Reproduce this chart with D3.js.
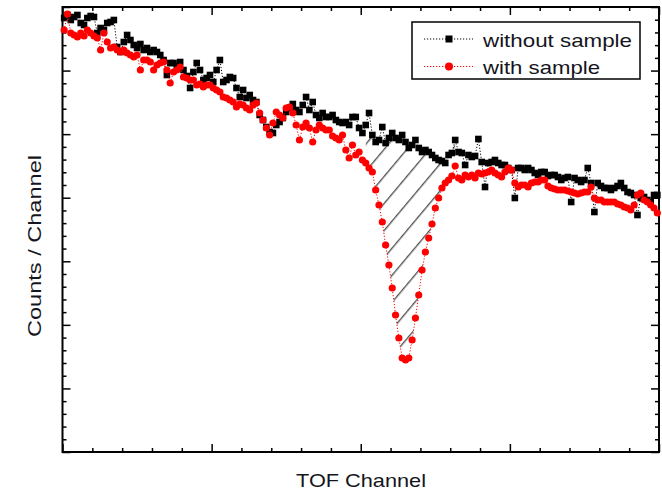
<!DOCTYPE html>
<html>
<head>
<meta charset="utf-8">
<script src="https://cdn.jsdelivr.net/npm/d3@7"></script>
<style>
  body { margin: 0; background: #fff; }
  svg text { font-family: "Liberation Sans", Arial, sans-serif; fill: #151520; }
</style>
</head>
<body>
<script>
// TOF channel index (no tick labels on the original, so arbitrary units)
const channels = d3.range(180).map(i => i + 0.5);

// counts per channel
const withoutSample = [
  434, 437, 432, 435, 437, 429, 427, 434, 436, 435, 419, 424, 422, 429, 430, 432, 405, 400, 410, 417,
  412, 407, 404, 408, 402, 404, 400, 402, 400, 397, 392, 377, 389, 389, 386, 390, 382, 376, 364, 380,
  389, 382, 372, 374, 377, 370, 382, 392, 370, 372, 375, 374, 364, 355, 362, 354, 357, 352, 350, 337,
  332, 325, 320, 319, 327, 330, 334, 340, 344, 348, 342, 340, 347, 355, 342, 350, 337, 334, 339, 335,
  335, 337, 332, 330, 329, 330, 327, 335, 335, 324, 319, 327, 339, 317, 310, 312, 325, 309, 314, 319,
  314, 312, 317, 310, 304, 307, 312, 304, 300, 302, 300, 297, 294, 292, 291, 289, 297, 299, 312, 300,
  299, 287, 297, 295, 296, 313, 290, 265, 289, 290, 292, 289, 287, 287, 284, 282, 254, 284, 284, 282,
  284, 282, 279, 277, 280, 280, 276, 277, 277, 275, 272, 274, 275, 250, 274, 272, 270, 272, 284, 269,
  240, 269, 266, 264, 264, 262, 264, 266, 269, 264, 260, 259, 257, 237, 254, 255, 252, 250, 257, 257
];

const withSample = [
  422, 438, 419, 417, 415, 419, 416, 422, 419, 416, 414, 402, 419, 410, 404, 405, 402, 400, 402, 399,
  397, 395, 397, 382, 392, 392, 390, 382, 387, 389, 390, 382, 369, 380, 382, 385, 375, 374, 372, 372,
  367, 368, 365, 367, 367, 364, 362, 360, 355, 354, 352, 350, 345, 348, 347, 344, 342, 347, 349, 339,
  332, 324, 317, 329, 340, 337, 334, 344, 345, 339, 327, 312, 325, 329, 324, 310, 322, 327, 324, 322,
  322, 316, 314, 312, 317, 302, 294, 307, 297, 300, 292, 289, 284, 280, 262, 247, 230, 207, 187, 164,
  137, 114, 94, 92, 94, 112, 134, 157, 182, 200, 214, 228, 244, 254, 264, 269, 272, 276, 286, 274,
  272, 277, 275, 277, 274, 279, 278, 279, 280, 282, 279, 277, 275, 280, 284, 282, 269, 265, 267, 267,
  265, 269, 270, 270, 272, 272, 266, 264, 263, 262, 262, 262, 261, 260, 259, 258, 259, 260, 260, 265,
  254, 252, 252, 250, 250, 250, 250, 248, 247, 245, 244, 242, 247, 257, 259, 252, 250, 247, 244, 239
];

// channels where the absorption dip is shaded
const dipRange = [91, 118];

const legendLabels = ["without sample", "with sample"];
const xTicks = d3.range(0, 181, 9);            // minor every 9, major every 45
const yTicks = d3.range(36).map(k => k * 445 / 35);

const W = 662, H = 490;
const margin = { top: 7, right: 3, bottom: 38, left: 62.5 };
const innerW = W - margin.left - margin.right;
const innerH = H - margin.top - margin.bottom;

const svg = d3.select("body").append("svg")
    .attr("width", W)
    .attr("height", H);

const x = d3.scaleLinear().domain([0, 180]).range([margin.left, W - margin.right]);
const y = d3.scaleLinear().domain([0, 445]).range([H - margin.bottom, margin.top]);

const black = channels.map((c, i) => ({ c, v: withoutSample[i] }));
const red = channels.map((c, i) => ({ c, v: withSample[i] }));

// hatching between the two curves
const defs = svg.append("defs");
defs.append("pattern")
    .attr("id", "hatch")
    .attr("patternUnits", "userSpaceOnUse")
    .attr("width", 10)
    .attr("height", 17.4)
    .attr("patternTransform", "rotate(-50)")
  .append("line")
    .attr("x1", 0).attr("x2", 10)
    .attr("y1", 7.5).attr("y2", 7.5)
    .attr("stroke", "#2a2a2a")
    .attr("stroke-width", 1.1);

const dip = d3.range(dipRange[0], dipRange[1] + 1);
const hatchArea = d3.area()
    .x(i => x(channels[i]))
    .y0(i => y(withSample[i]))
    .y1(i => y(withoutSample[i]));

svg.append("path")
    .datum(dip)
    .attr("d", hatchArea)
    .attr("fill", "url(#hatch)");

// frame + ticks (ticks point inward on all four sides)
function tickLen(isMajor) { return isMajor ? 8 : 4; }

function drawAxis(axis, tx, ty, majorEvery, sign, vertical) {
  const g = svg.append("g")
      .attr("transform", `translate(${tx},${ty})`)
      .call(axis.tickFormat("").tickSizeOuter(0));
  g.select(".domain").remove();
  g.selectAll(".tick line")
      .attr("stroke", "#000")
      .attr("stroke-width", 1.5)
      .each(function(d, i) {
        const len = sign * tickLen(i % majorEvery === 0);
        d3.select(this).attr(vertical ? "x2" : "y2", len);
      });
}

drawAxis(d3.axisBottom(x).tickValues(xTicks), 0, H - margin.bottom, 5, -1, false);
drawAxis(d3.axisTop(x).tickValues(xTicks), 0, margin.top, 5, 1, false);
drawAxis(d3.axisLeft(y).tickValues(yTicks), margin.left, 0, 5, 1, true);
drawAxis(d3.axisRight(y).tickValues(yTicks), W - margin.right, 0, 5, -1, true);

svg.append("rect")
    .attr("x", margin.left)
    .attr("y", margin.top)
    .attr("width", innerW)
    .attr("height", innerH)
    .attr("fill", "none")
    .attr("stroke", "#000")
    .attr("stroke-width", 2);

const line = d3.line().x(d => x(d.c)).y(d => y(d.v));

// without sample: black dotted line + squares
svg.append("path")
    .datum(black)
    .attr("d", line)
    .attr("fill", "none")
    .attr("stroke", "#000")
    .attr("stroke-width", 1)
    .attr("stroke-dasharray", "1.2,1.8");

svg.selectAll(".sq")
    .data(black)
    .enter().append("rect")
    .attr("class", "sq")
    .attr("x", d => x(d.c) - 3.3)
    .attr("y", d => y(d.v) - 3.3)
    .attr("width", 6.6)
    .attr("height", 6.6)
    .attr("fill", "#000");

// with sample: red dotted line + circles
svg.append("path")
    .datum(red)
    .attr("d", line)
    .attr("fill", "none")
    .attr("stroke", "#ff0000")
    .attr("stroke-width", 1)
    .attr("stroke-dasharray", "1.2,1.8");

svg.selectAll(".dot")
    .data(red)
    .enter().append("circle")
    .attr("class", "dot")
    .attr("cx", d => x(d.c))
    .attr("cy", d => y(d.v))
    .attr("r", 3.6)
    .attr("fill", "#ff0000");

// legend
const legend = svg.append("g").attr("transform", "translate(412,22)");
legend.append("rect")
    .attr("width", 228)
    .attr("height", 57)
    .attr("fill", "#fff")
    .attr("stroke", "#000")
    .attr("stroke-width", 1.5);

const colors = ["#000", "#ff0000"];
const textLen = [149, 117];
legendLabels.forEach((label, i) => {
  const row = legend.append("g").attr("transform", `translate(0,${17 + i * 27.5})`);
  row.append("line")
      .attr("x1", 12).attr("x2", 61)
      .attr("stroke", colors[i])
      .attr("stroke-width", 1)
      .attr("stroke-dasharray", "1.2,1.8");
  if (i === 0) {
    row.append("rect").attr("x", 33.5).attr("y", -3.5).attr("width", 7).attr("height", 7).attr("fill", "#000");
  } else {
    row.append("circle").attr("cx", 37).attr("r", 4).attr("fill", "#ff0000");
  }
  row.append("text")
      .attr("x", 71)
      .attr("y", 7.5)
      .attr("font-size", 19)
      .attr("textLength", textLen[i])
      .attr("lengthAdjust", "spacingAndGlyphs")
      .text(label);
});

// axis titles
svg.append("text")
    .attr("x", 361)
    .attr("y", 487)
    .attr("text-anchor", "middle")
    .attr("font-size", 19)
    .attr("textLength", 130)
    .attr("lengthAdjust", "spacingAndGlyphs")
    .text("TOF Channel");

svg.append("text")
    .attr("transform", "translate(41,246) rotate(-90)")
    .attr("text-anchor", "middle")
    .attr("font-size", 19)
    .attr("textLength", 182)
    .attr("lengthAdjust", "spacingAndGlyphs")
    .text("Counts / Channel");
</script>
</body>
</html>
